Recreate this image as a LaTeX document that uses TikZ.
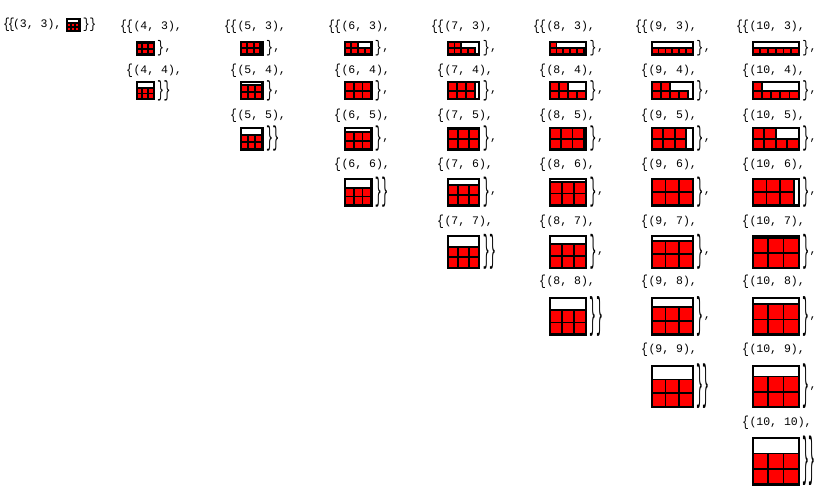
\documentclass[tikz,border=0pt]{standalone}
\usepackage{graphicx}
\usepackage{fontspec}
\setmonofont{Liberation Mono}
\usetikzlibrary{positioning}
\definecolor{PackRed}{HTML}{FF0000}
\newcommand{\lbr}[1]{\resizebox*{\width}{#1}{\{}}
\newcommand{\rbr}[1]{\resizebox*{\width}{#1}{\}}}
\newcommand{\packcells}[3]{%
  \pgfmathsetmacro{\sqside}{max(min(#3,#2/6),min(#3/2,#2/3),min(#3/3,#2/2),min(#3/6,#2))}%
  \pgfmathtruncatemacro{\ncols}{floor(#2/\sqside+0.001)}%
  \pgfmathsetmacro{\ux}{(4.85*#2-2.4)/#2}%
  \pgfmathsetmacro{\uy}{(4.85*#3-2.4)/#3}%
  \begin{scope}[shift={(#1.south west)},x=\ux pt,y=\uy pt]
    \foreach \k in {0,...,5}{
      \pgfmathtruncatemacro{\kc}{mod(\k,\ncols)}
      \pgfmathtruncatemacro{\kr}{floor(\k/\ncols)}
      \draw[cell] (\kc*\sqside,\kr*\sqside) rectangle ++(\sqside,\sqside);
    }
    \draw[line width=2.4pt] (0,0) rectangle (#2,#3);
  \end{scope}}

\begin{document}
\begin{tikzpicture}[x=1pt,y=-1pt,
    font=\fontsize{11.5}{13}\selectfont\ttfamily,
    txt/.style={inner sep=0pt,outer sep=0pt,anchor=west},
    frame/.style={draw=black,fill=white,line width=2.4pt,inner sep=0pt,outer sep=0pt,anchor=north west},
    cell/.style={draw=black,fill=PackRed,line width=1.8pt}
  ]
  \useasboundingbox (0,0) rectangle (821,496);

  \node[txt] (ob-3) at (3,24.5) {\lbr{13.5pt}};
  \node[txt] (ib-3-3) at (8,24.5) {\lbr{13.5pt}};
  \node[txt] (lab-3-3) at (13,24.5) {(3, 3),};
  \node[frame,anchor=west,minimum width=12.15pt,minimum height=12.15pt] (g-3-3) at (67.2,25) {};
  \packcells{g-3-3}{3}{3}
  \node[txt,right=3.5pt of g-3-3] (cb-3-3) {\rbr{13.5pt}};
  \node[txt,right=-0.5pt of cb-3-3] (cc-3) {\rbr{13.5pt}};

  \foreach \n/\xo in {4/121,5/225,6/329,7/432,8/534,9/636,10/737}{
    \node[txt] (ob-\n) at (\xo-1,26.5) {\lbr{13.5pt}};
    \foreach \m in {3,...,\n}{
      \pgfmathsetmacro{\ly}{{26.5,71,116,165,221.5,281.5,350,423}[\m-3]}
      \pgfmathsetmacro{\gt}{{41,81,126.5,177.5,235,297,364.5,437}[\m-3]}
      \pgfmathsetmacro{\gw}{4.85*\n-2.4}
      \pgfmathsetmacro{\gh}{4.85*\m-2.4}
      \pgfmathsetmacro{\bh}{4.85*\m+1}
      \node[txt] (ib-\n-\m) at (\xo+5,\ly) {\lbr{13.5pt}};
      \node[txt] (lab-\n-\m) at (\xo+12.5,\ly) {(\n, \m),};
      \node[frame,minimum width=\gw pt,minimum height=\gh pt] (g-\n-\m) at (\xo+15.7,\gt+1.2) {};
      \packcells{g-\n-\m}{\n}{\m}
      \node[txt,right=3.5pt of g-\n-\m] (cb-\n-\m) {\rbr{\bh pt}};
      \ifnum\m<\n
        \node[txt] (cm-\n-\m) at ([xshift=0.5pt,yshift=-2pt]cb-\n-\m.east) {,};
      \else
        \node[txt,right=-0.5pt of cb-\n-\m] (cc-\n) {\rbr{\bh pt}};
      \fi
    }
  }
\end{tikzpicture}
\end{document}
